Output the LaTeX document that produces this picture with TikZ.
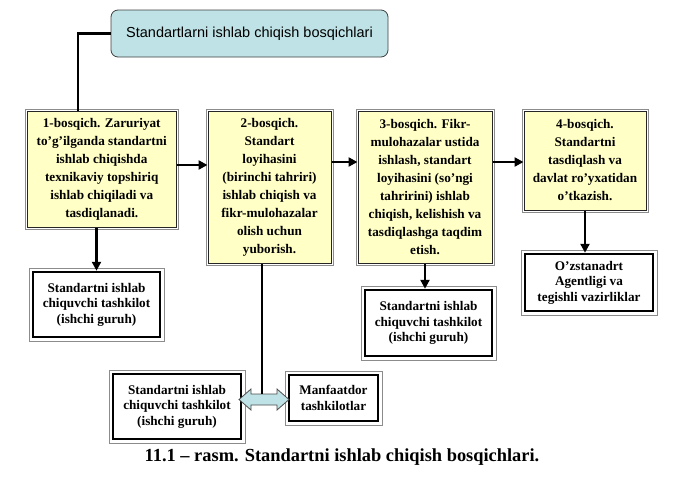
\documentclass[tikz,border=0pt]{standalone}
\usepackage{fontspec}
\setmainfont{Liberation Serif}
\newfontfamily\titlefont{Liberation Sans}
\usetikzlibrary{arrows.meta,calc}
\definecolor{ybox}{HTML}{FFFFC6}
\definecolor{tbox}{HTML}{BEE2E5}
\definecolor{frm}{HTML}{8C8C8C}
\tikzset{
  yframe/.style={append after command={\pgfextra{\draw[frm,line width=0.6pt]
      ([shift={(-1.6pt,-1.6pt)}]\tikzlastnode.south west) rectangle
      ([shift={(1.6pt,1.6pt)}]\tikzlastnode.north east);}}},
  wframe/.style={append after command={\pgfextra{\draw[frm,line width=0.6pt]
      ([shift={(-2.6pt,-2.6pt)}]\tikzlastnode.south west) rectangle
      ([shift={(2.6pt,2.6pt)}]\tikzlastnode.north east);}}},
  stage/.style={draw=black!85, line width=1pt, fill=ybox, align=center,
      inner sep=0pt, font=\bfseries\fontsize{13.2}{18}\selectfont, yframe},
  org/.style={draw=black, line width=2.5pt, fill=white, align=center,
      inner sep=0pt, font=\bfseries\fontsize{13.2}{15.5}\selectfont, wframe},
  titlebox/.style={draw=black!75, line width=0.8pt, fill=tbox, rounded corners=7pt,
      inner sep=0pt, font=\titlefont\fontsize{14.5}{17}\selectfont},
  arr/.style={line width=2.5pt, -{Triangle[length=9pt,width=9pt]}},
  link/.style={line width=2.5pt},
  dfill/.style={draw=black!70, line width=0.8pt, fill=tbox, line join=miter},
  anchorbox/.style={inner sep=0pt, minimum width=50pt, minimum height=11pt}
}
\begin{document}
\begin{tikzpicture}[x=1pt,y=-1pt]
\useasboundingbox (0,0) rectangle (683,480);

\node[titlebox, minimum width=277pt, minimum height=47pt] (title) at (249.5,33.5)
  {Standartlarni ishlab chiqish bosqichlari};

\node[stage, minimum width=148.5pt, minimum height=116pt] (s1) at (101.75,169)
  {1-bosqich. Zaruriyat\\to’g’ilganda standartni\\ishlab chiqishda\\texnikaviy topshiriq\\ishlab chiqiladi va\\tasdiqlanadi.};
\node[stage, minimum width=123pt, minimum height=152pt] (s2) at (269.5,187)
  {2-bosqich.\\Standart\\loyihasini\\(birinchi tahriri)\\ishlab chiqish va\\fikr-mulohazalar\\olish uchun\\yuborish.};
\node[stage, minimum width=134pt, minimum height=152pt] (s3) at (425,187)
  {3-bosqich. Fikr-\\mulohazalar ustida\\ishlash, standart\\loyihasini (so’ngi\\tahririni) ishlab\\chiqish, kelishish va\\tasdiqlashga taqdim\\etish.};
\node[stage, minimum width=122pt, minimum height=99pt] (s4) at (585,160.5)
  {4-bosqich.\\Standartni\\tasdiqlash va\\davlat ro’yxatidan\\o’tkazish.};

\node[org, minimum width=127pt, minimum height=65pt] (o1) at (96.5,304.5)
  {Standartni ishlab\\chiquvchi tashkilot\\(ishchi guruh)};
\node[org, minimum width=127pt, minimum height=66pt] (o3) at (428.5,323)
  {Standartni ishlab\\chiquvchi tashkilot\\(ishchi guruh)};
\node[org, minimum width=128pt, minimum height=57pt] (o4) at (589,282.5)
  {O’zstanadrt\\Agentligi va\\tegishli vazirliklar};
\node[org, minimum width=128pt, minimum height=65pt] (o2l) at (177,406.5)
  {Standartni ishlab\\chiquvchi tashkilot\\(ishchi guruh)};
\node[org, minimum width=89pt, minimum height=46pt] (o2r) at (333.5,398)
  {Manfaatdor\\tashkilotlar};

\node[anchorbox] (darr) at (264,399.5) {};
\begin{scope}[shift={(darr.center)}]
  \draw[dfill] (-25,0) -- (-13,-10.5) -- (-13,-5.5) -- (13,-5.5) -- (13,-10.5)
    -- (25,0) -- (13,10.5) -- (13,5.5) -- (-13,5.5) -- (-13,10.5) -- cycle;
\end{scope}

\node[font=\bfseries\fontsize{18.4}{20}\selectfont] (cap) at (342,457)
  {11.1 – rasm. Standartni ishlab chiqish bosqichlari.};

\coordinate (tc) at (78,0);
\coordinate (h1) at (0,165);
\coordinate (h2) at (0,162);
\coordinate (vl) at (262,0);

\draw[link] (title.west) -| (tc |- s1.north);
\draw[arr] (s1.east |- h1) -- (s2.west |- h1);
\draw[arr] (s2.east |- h2) -- (s3.west |- h2);
\draw[arr] (s3.east |- h2) -- (s4.west |- h2);
\draw[arr] (s1.south -| o1.north) -- (o1.north);
\draw[arr] (s3.south) -- (s3.south |- o3.north);
\draw[arr] (s4.south) -- (s4.south |- o4.north);
\draw[link] (vl |- s2.south) -- (vl |- darr.north);
\end{tikzpicture}
\end{document}
